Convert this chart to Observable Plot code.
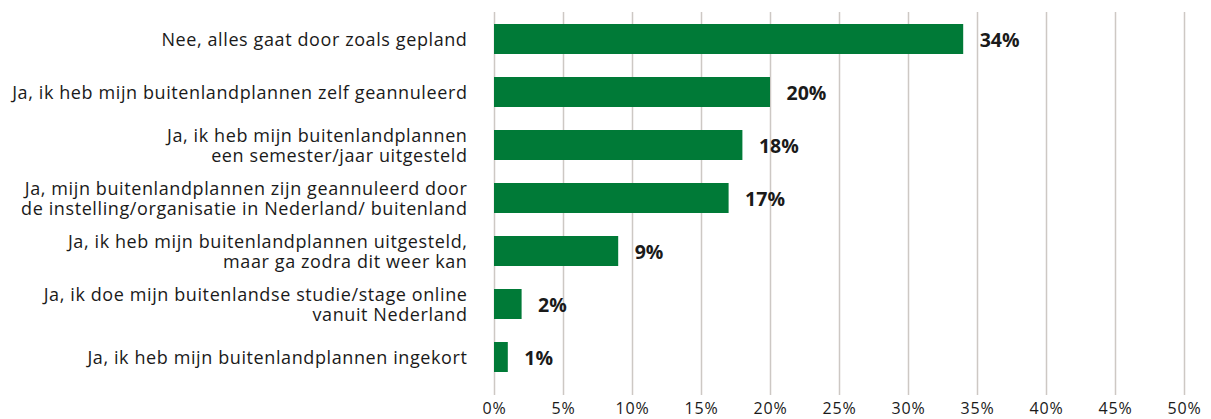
<!DOCTYPE html>
<html><head><meta charset="utf-8">
<script src="https://cdn.jsdelivr.net/npm/d3@7"></script>
<script src="https://cdn.jsdelivr.net/npm/@observablehq/plot@0.6"></script>
<style>
body{margin:0;background:#fff}
g[aria-label="y-axis tick label"] text{letter-spacing:0.6px}
g[aria-label="x-axis tick label"] text{letter-spacing:0.8px}
</style>
</head><body><div id="chart"></div>
<script>
const categories = [
  "Nee, alles gaat door zoals gepland",
  "Ja, ik heb mijn buitenlandplannen zelf geannuleerd",
  "Ja, ik heb mijn buitenlandplannen\neen semester/jaar uitgesteld",
  "Ja, mijn buitenlandplannen zijn geannuleerd door\nde instelling/organisatie in Nederland/ buitenland",
  "Ja, ik heb mijn buitenlandplannen uitgesteld,\nmaar ga zodra dit weer kan",
  "Ja, ik doe mijn buitenlandse studie/stage online\nvanuit Nederland",
  "Ja, ik heb mijn buitenlandplannen ingekort"
];
const values = [34, 20, 18, 17, 9, 2, 1];
const xTicks = [0, 5, 10, 15, 20, 25, 30, 35, 40, 45, 50];

const data = categories.map((c, i) => ({category: c, value: values[i]}));

const chart = Plot.plot({
  width: 1211, height: 419,
  marginLeft: 494, marginRight: 27, marginTop: 12, marginBottom: 24,
  style: {fontFamily: "'Open Sans', sans-serif", fontSize: "16px", color: "#1a1a1a", background: "#fff"},
  x: {domain: [0, 50], label: null},
  y: {domain: categories, paddingInner: 0.44, paddingOuter: 0.305, align: 0.33, label: null},
  marks: [
    Plot.gridX(xTicks, {stroke: "#cdc8c4", strokeOpacity: 1, strokeWidth: 1.5}),
    Plot.barX(data, {x: "value", y: "category", fill: "#007a37"}),
    Plot.text(data, {x: "value", y: "category", text: d => d.value + "%", textAnchor: "start", dx: 16, dy: 1, fontWeight: "bold", fontSize: 19.5, fill: "#1a1a1a"}),
    Plot.axisX(xTicks, {tickSize: 0, tickPadding: 7, tickFormat: d => d + "%", label: null, fontSize: 16}),
    Plot.axisY({tickSize: 0, tickPadding: 27, label: null, fontSize: 18, lineHeight: 1.1})
  ]
});
document.getElementById("chart").appendChild(chart);
</script>
</body></html>
